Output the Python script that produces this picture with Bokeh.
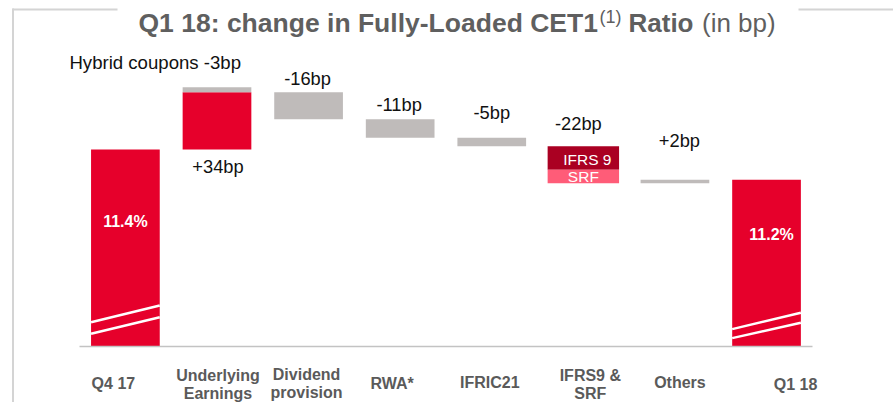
from bokeh.plotting import figure
from bokeh.models import Range1d, Label, ColumnDataSource
from bokeh.embed import file_html
from bokeh.resources import INLINE
from bokeh.core.properties import value

# ---------------- data ----------------
categories = ["Q4 17", "Underlying\nEarnings", "Dividend\nprovision", "RWA*",
              "IFRIC21", "IFRS9 &\nSRF", "Others", "Q1 18"]
start_bp = 1140            # Q4 17 fully-loaded CET1 (bp)
start_label = "11.4%"
end_label = "11.2%"
underlying_bp = 34
hybrid_bp = -3
step_names = ["Dividend provision", "RWA*", "IFRIC21", "IFRS 9", "SRF", "Others"]
step_values = [-16, -11, -5, -14, -8, 2]
value_labels = ["-16bp", "-11bp", "-5bp", "-22bp", "+2bp"]
underlying_label = "+34bp"
hybrid_label = "Hybrid coupons -3bp"

# ---------------- style / layout ----------------
W, H = 893, 402
OFF = 0
RED = "#E6002B"
GREY = "#BFBBBA"
DARK = "#AA0022"
PINK = "#FF5C78"
LBL = "#5a5a5a"
FONT = "Liberation Sans"
UX = 91.59                 # px per category
K = 1.685                  # px per bp
X0 = -(124.9 - OFF) / UX
YTOP = start_bp + (149 - OFF) / K


def xs(page_x):
    return X0 + (page_x - OFF) / UX


def ys(page_y):
    return YTOP - (page_y - OFF) / K


BASE = ys(346)
BW = 0.75

p = figure(width=W, height=H, output_backend="svg", toolbar_location=None,
           x_range=Range1d(X0, X0 + W / UX), y_range=Range1d(YTOP - H / K, YTOP),
           min_border=0, outline_line_color=None)
p.axis.visible = False
p.grid.visible = False
p.background_fill_color = "white"
p.border_fill_color = "white"

# ---------------- bars ----------------
xb, bot, top, col, wid = [], [], [], [], []
xb.append(0); bot.append(BASE); top.append(start_bp); col.append(RED); wid.append(BW)
lvl = start_bp
xb.append(1); bot.append(lvl); top.append(lvl + underlying_bp); col.append(RED); wid.append(BW)
lvl += underlying_bp
und_top = lvl
xb.append(1); bot.append(lvl); top.append(lvl - hybrid_bp); col.append(GREY); wid.append(BW)
step_x = [2, 3, 4, 5, 5, 6]
step_col = [GREY, GREY, GREY, DARK, PINK, GREY]
step_w = [BW, BW, BW, 0.78, 0.78, BW]
seg_bounds = []
for sx, sv, sc, sw in zip(step_x, step_values, step_col, step_w):
    new = lvl + sv
    xb.append(sx); bot.append(min(lvl, new)); top.append(max(lvl, new)); col.append(sc); wid.append(sw)
    seg_bounds.append((lvl, new))
    lvl = new
end_bp = lvl
xb.append(7); bot.append(BASE); top.append(end_bp); col.append(RED); wid.append(BW)

src = ColumnDataSource(dict(x=xb, bottom=bot, top=top, color=col, width=wid))
p.vbar(x="x", bottom="bottom", top="top", width="width", fill_color="color",
       line_color=None, source=src)

# axis-break marks on total bars (white diagonals), px above baseline
breaks = [(0, [(24.3, 41.0), (12.7, 29.3)]), (7, [(17.4, 33.7), (8.4, 23.7)])]
bx0, bx1, by0, by1 = [], [], [], []
for bi, pairs in breaks:
    for a, b in pairs:
        bx0.append(bi - BW / 2); bx1.append(bi + BW / 2)
        by0.append(BASE + a / K); by1.append(BASE + b / K)
p.segment(x0=bx0, y0=by0, x1=bx1, y1=by1, line_color="white", line_width=2.5)

# baseline
p.segment(x0=[xs(79)], y0=[BASE], x1=[xs(812)], y1=[BASE], line_color="#c3c3c3", line_width=1.5)

# frame
p.segment(x0=[xs(12.5), xs(12), xs(798)], y0=[ys(8), ys(9), ys(9)],
          x1=[xs(12.5), xs(117), xs(893)], y1=[ys(402), ys(9), ys(9)],
          line_color="#d4d4d4", line_width=2)

# ---------------- texts ----------------
p.text(x=[0, 7 + 5 / UX], y=[start_bp - 72 / K, end_bp - 55 / K], text=[start_label, end_label],
       text_font=value(FONT), text_font_size="16px", text_font_style="bold",
       text_color="white", text_align="center", text_baseline="middle")

gaps = [14, 15, 25, 23, 39]
dxs = [-1, -1, 0, -5, 4.5]
lab_x = [2, 3, 4, 5, 6]
tops_for_labels = [seg_bounds[0][0], seg_bounds[1][0], seg_bounds[2][0],
                   seg_bounds[3][0], max(seg_bounds[5])]
p.text(x=[lx + d / UX for lx, d in zip(lab_x, dxs)],
       y=[t + g / K for t, g in zip(tops_for_labels, gaps)], text=value_labels,
       text_font=value(FONT), text_font_size="18.3px", text_color="#111111",
       text_align="center", text_baseline="middle")
p.text(x=[1 + 1 / UX], y=[start_bp - 17 / K], text=[underlying_label],
       text_font=value(FONT), text_font_size="18.3px", text_color="#111111",
       text_align="center", text_baseline="middle")
p.text(x=[1 + 24 / UX], y=[und_top - hybrid_bp + 25 / K], text=[hybrid_label],
       text_font=value(FONT), text_font_size="18.6px", text_color="#111111",
       text_align="right", text_baseline="middle")
ifrs_mid = (seg_bounds[3][0] + seg_bounds[3][1]) / 2
srf_mid = (seg_bounds[4][0] + seg_bounds[4][1]) / 2
p.text(x=[5 + 4 / UX, 5], y=[ifrs_mid - 1.5 / K, srf_mid], text=["IFRS 9", "SRF"],
       text_font=value(FONT), text_font_size="15.5px", text_color="white",
       text_align="center", text_baseline="middle")

# category labels
cat_dx = [-12, 1, -2, -8, -2, 7, 5, 29]
cat_y1 = [383, 375, 374, 383, 382, 375, 382, 384]
cx, cy, ct = [], [], []
for i, (c, d, y1) in enumerate(zip(categories, cat_dx, cat_y1)):
    for j, ln in enumerate(c.split("\n")):
        cx.append(i + d / UX); cy.append(ys(y1 + 18 * j)); ct.append(ln)
p.text(x=cx, y=cy, text=ct, text_font=value(FONT), text_font_size="16px",
       text_font_style="bold", text_color=LBL, text_align="center", text_baseline="middle")

# title pieces
TC = "#5f5f5f"
def tl(txt, px, py, size, style):
    p.add_layout(Label(x=px - OFF, y=H - (py - OFF), x_units="screen", y_units="screen",
                       text=txt, text_font=FONT, text_font_size=size, text_font_style=style,
                       text_color=TC, text_baseline="alphabetic", text_align="left"))

tl("Q1 18: change in Fully-Loaded CET1", 138, 22.5, "26.5px", "bold")
tl("(1)", 599, 16.5, "18px", "normal")
tl("Ratio", 628, 22.5, "26px", "bold")
tl("(in bp)", 701.5, 22.5, "26px", "normal")

open("out.html", "w").write(file_html(p, INLINE))
